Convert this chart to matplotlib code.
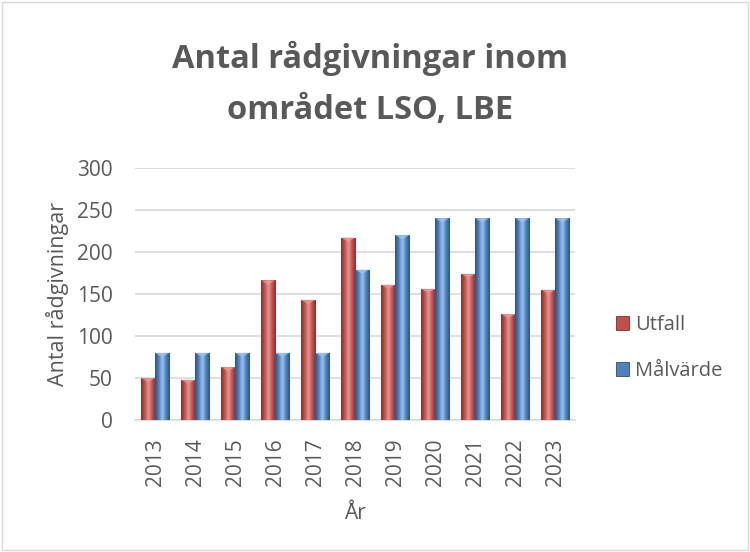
import matplotlib.pyplot as plt
import numpy as np
from matplotlib.patches import Rectangle
from matplotlib.colors import LinearSegmentedColormap

years = ['2013', '2014', '2015', '2016', '2017', '2018', '2019', '2020', '2021', '2022', '2023']
utfall = [50, 48, 63, 166, 143, 217, 161, 156, 174, 126, 155]
malvarde = [80, 80, 80, 80, 80, 179, 220, 240, 240, 240, 240]

plt.rcParams['font.family'] = ['Open Sans', 'DejaVu Sans']
grey = '#595959'

fig = plt.figure(figsize=(7.5, 5.52), dpi=100)
fig.patches.append(Rectangle((0.003, 0.004), 0.994, 0.992, transform=fig.transFigure,
                             fill=False, edgecolor='#d9d9d9', linewidth=1))
ax = fig.add_axes([0.18, 0.239, 0.587, 0.457])

x = np.arange(len(years))
w = 0.35


def shaded(bars, base, dark, light):
    cmap = LinearSegmentedColormap.from_list('g', [dark, base, light, base, dark])
    grad = np.linspace(0, 1, 64).reshape(1, -1)
    for b in bars:
        x0, y0 = b.get_x(), b.get_y()
        bw, bh = b.get_width(), b.get_height()
        im = ax.imshow(grad, extent=[x0, x0 + bw, y0, y0 + bh], cmap=cmap,
                       aspect='auto', zorder=3, interpolation='bicubic')
        im.set_clip_path(b)
        # bevel on top
        ax.fill([x0, x0 + bw, x0 + bw / 2], [y0 + bh, y0 + bh, y0 + bh - 5],
                color=light, zorder=4, alpha=0.8, lw=0)


b1 = ax.bar(x - w / 2, utfall, w, color='#c0504d', edgecolor='#7f2a28', linewidth=0.6,
            zorder=2, label='Utfall')
b2 = ax.bar(x + w / 2, malvarde, w, color='#4f81bd', edgecolor='#2c4d75', linewidth=0.6,
            zorder=2, label='Målvärde')
shaded(b1, '#c0504d', '#8c2e2b', '#e49a98')
shaded(b2, '#4f81bd', '#2c5282', '#9dc3ec')

ax.set_xlim(-0.5, len(years) - 0.5)
ax.set_ylim(0, 300)
ax.set_yticks(range(0, 301, 50))
ax.set_xticks(x)
ax.set_xticklabels(years, rotation=90)
ax.tick_params(axis='both', length=0, labelsize=15, colors=grey)
ax.tick_params(axis='x', pad=13)
ax.tick_params(axis='y', pad=16)
ax.grid(axis='y', color='#d9d9d9', linewidth=1.2, zorder=0)
for s in ['top', 'right', 'left']:
    ax.spines[s].set_visible(False)
ax.spines['bottom'].set_color('#d9d9d9')
ax.spines['bottom'].set_linewidth(1.2)

ax.set_ylabel('Antal rådgivningar', fontsize=15.5, color=grey, labelpad=6)
ax.set_xlabel('År', fontsize=15, color=grey, labelpad=12)

fig.text(0.493, 0.877, 'Antal rådgivningar inom', ha='center', va='baseline',
         fontsize=23.5, fontweight='bold', color=grey)
fig.text(0.493, 0.784, 'området LSO, LBE', ha='center', va='baseline',
         fontsize=23.5, fontweight='bold', color=grey)

leg = ax.legend(loc='center left', bbox_to_anchor=(1.093, 0.285), frameon=False,
                fontsize=14.5, labelcolor=grey, handlelength=0.65, handleheight=0.65,
                handletextpad=0.3, labelspacing=1.3, borderaxespad=0, borderpad=0)

fig.savefig('out.png', dpi=100)
